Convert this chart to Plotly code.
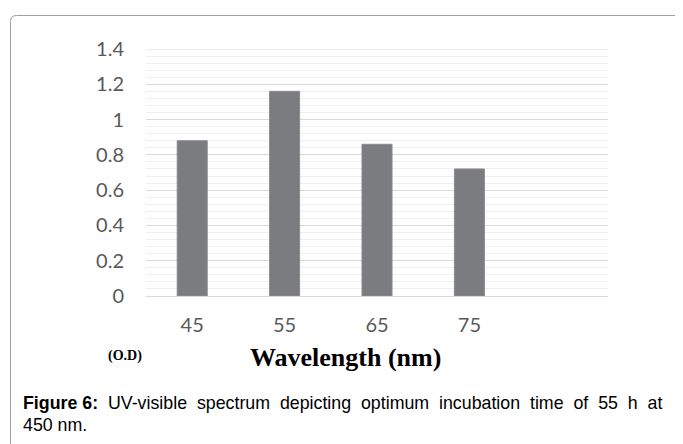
import plotly.graph_objects as go

categories = ["45", "55", "65", "75"]
values = [0.88, 1.16, 0.86, 0.72]
y_ticks = [0, 0.2, 0.4, 0.6, 0.8, 1, 1.2, 1.4]
y_ticklabels = ["0", "0.2", "0.4", "0.6", "0.8", "1", "1.2", "1.4"]

OFF = 8  # page body margin
W, H = 683 - OFF, 444 - OFF
L, T = 146 - OFF, 49 - OFF
PW, PH = 462, 247
R, B = W - L - PW, H - T - PH

def px(x):
    return (x - OFF - L) / PW

def py(y):
    return (T + PH - (y - OFF)) / PH

fig = go.Figure(go.Bar(
    x=categories, y=values,
    marker=dict(color="#7b7c80", line=dict(color="#8a8b8f", width=1)),
))

fig.update_layout(
    width=W, height=H,
    margin=dict(l=L, r=R, t=T, b=B),
    paper_bgcolor="white", plot_bgcolor="white",
    bargap=0.675,
    showlegend=False,
    font=dict(family="Lato, Carlito, sans-serif", size=20, color="#595959"),
)
fig.update_xaxes(
    type="category", range=[-0.5, 4.5],
    showgrid=False, showline=False, zeroline=False,
    ticks="outside", ticklen=11, tickcolor="rgba(0,0,0,0)",
    tickfont=dict(size=20, color="#595959"),
)
fig.update_yaxes(
    range=[0, 1.4],
    tickvals=y_ticks, ticktext=y_ticklabels,
    showgrid=True, gridcolor="#d9d9d9", gridwidth=1,
    zeroline=True, zerolinecolor="#d9d9d9", zerolinewidth=1,
    showline=False,
    ticks="outside", ticklen=17, tickcolor="rgba(0,0,0,0)",
    tickfont=dict(size=20, color="#595959"),
    minor=dict(dtick=0.04, tick0=0, showgrid=True, gridcolor="#efefef", gridwidth=1),
)

# top major gridline at the range edge
fig.add_shape(type="line", xref="paper", yref="y", x0=0, x1=1, y0=y_ticks[-1], y1=y_ticks[-1],
              line=dict(color="#d9d9d9", width=1), layer="below")

# rounded border box
lx, ty, rx, by = px(10.5), py(15.5), px(700), py(460)
rxp, ryp = 6 / PW, 6 / PH
fig.add_shape(
    type="path", xref="paper", yref="paper",
    path=f"M {lx},{by} L {lx},{ty - ryp} Q {lx},{ty} {lx + rxp},{ty} L {rx},{ty}",
    line=dict(color="#a0a0a0", width=1),
)

fig.add_annotation(
    xref="paper", yref="paper", x=px(345), y=py(357),
    text="<b>Wavelength (nm)</b>", showarrow=False,
    font=dict(family="Liberation Serif, Times New Roman, serif", size=26, color="black"),
    xanchor="center", yanchor="middle",
)
fig.add_annotation(
    xref="paper", yref="paper", x=px(125), y=py(356),
    text="<b>(O.D)</b>", showarrow=False,
    font=dict(family="Liberation Serif, Times New Roman, serif", size=14, color="black"),
    xanchor="center", yanchor="middle",
)
sp = "&nbsp; "
line1 = sp.join(["<b>Figure 6:</b>", "UV-visible", "spectrum", "depicting", "optimum",
                 "incubation", "time", "of", "55", "h", "at"])
fig.add_annotation(
    xref="paper", yref="paper", x=px(21), y=py(403),
    text=line1, showarrow=False,
    font=dict(family="Liberation Sans, Arial, sans-serif", size=17.8, color="black"),
    xanchor="left", yanchor="middle",
)
fig.add_annotation(
    xref="paper", yref="paper", x=px(21), y=py(425),
    text="450 nm.",
    showarrow=False,
    font=dict(family="Liberation Sans, Arial, sans-serif", size=17.8, color="black"),
    xanchor="left", yanchor="middle",
)

fig.write_html("out.html")
